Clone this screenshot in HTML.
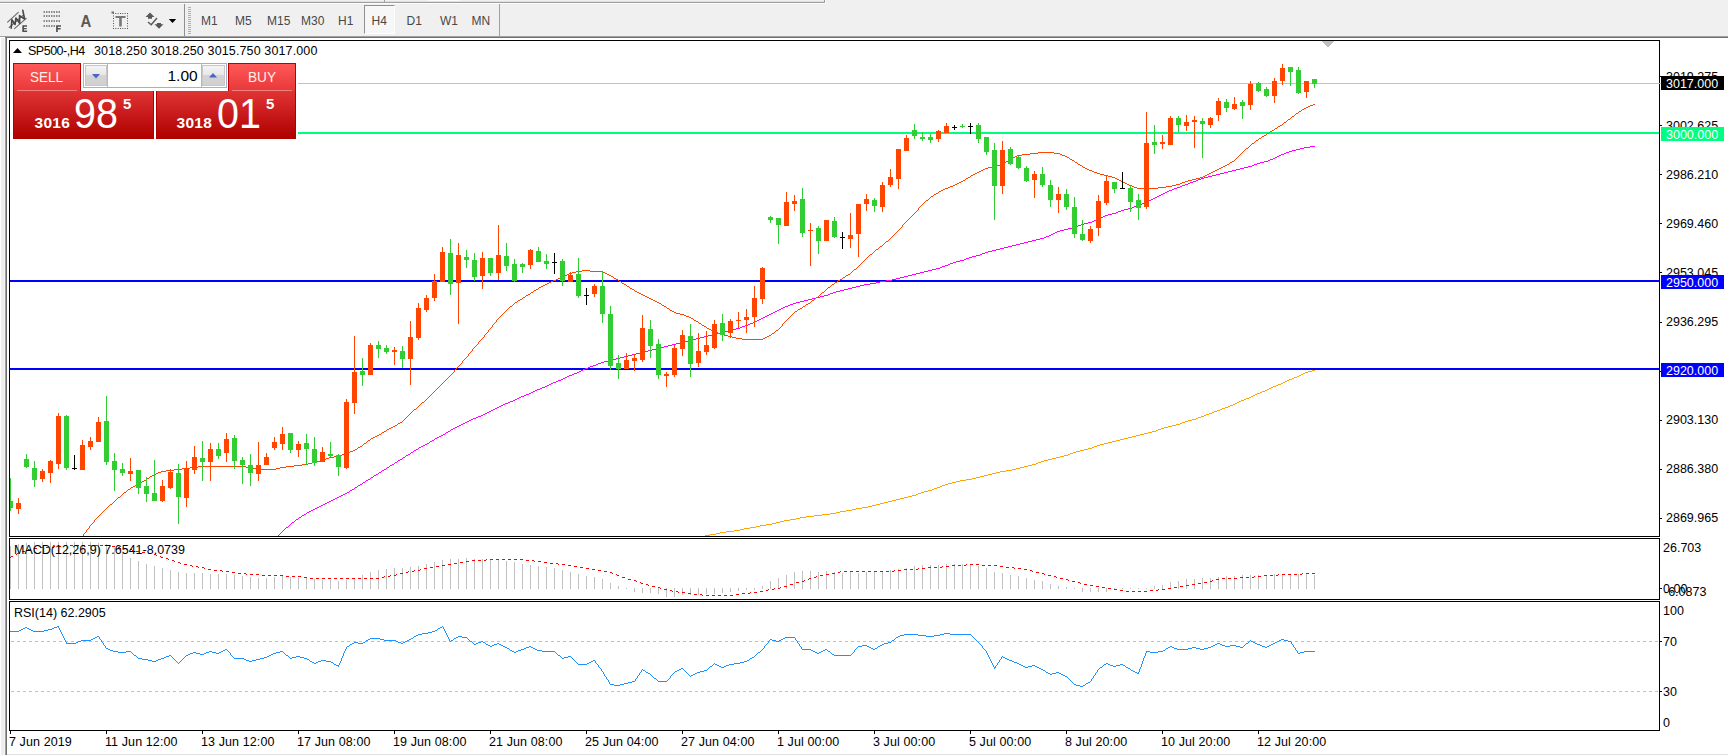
<!DOCTYPE html>
<html><head><meta charset="utf-8"><title>SP500-,H4</title>
<style>
html,body{margin:0;padding:0;}
body{width:1728px;height:755px;overflow:hidden;background:#fff;position:relative;font-family:"Liberation Sans",sans-serif;font-size:12px;color:#000;}
.abs{position:absolute;white-space:nowrap;}
#tb{position:absolute;left:0;top:0;width:1728px;height:37px;background:#F0F0F0;}
.tf{position:absolute;top:14px;font-size:12px;color:#484848;line-height:14px;}
.ax{position:absolute;left:1666px;font-size:12.5px;line-height:14px;white-space:nowrap;}
.lbl{position:absolute;left:1661px;width:63px;height:14px;font-size:12.5px;line-height:14px;color:#fff;padding-left:5px;padding-top:0.8px;box-sizing:border-box;white-space:nowrap;}
.dt{position:absolute;top:734.5px;letter-spacing:0.1px;font-size:12.5px;line-height:14px;white-space:nowrap;}
.big{position:absolute;white-space:nowrap;font-size:42px;line-height:46px;color:#fff;transform-origin:0 0;transform:scaleX(0.94);}
.sm{position:absolute;white-space:nowrap;font-size:15.5px;letter-spacing:0.3px;line-height:18px;font-weight:bold;color:#fff;}
.sup{position:absolute;white-space:nowrap;font-size:15px;line-height:17px;font-weight:bold;color:#fff;}
</style></head><body>
<div id="tb"></div>
<div class="abs" style="left:0;top:1px;width:824px;height:1px;background:#E0E0E0"></div>
<div class="abs" style="left:28px;top:0;width:32px;height:1px;background:#FCFCFC"></div>
<div class="abs" style="left:428px;top:0;width:32px;height:1px;background:#FCFCFC"></div>
<div class="abs" style="left:0;top:2px;width:825px;height:1px;background:#A0A0A0"></div>
<div class="abs" style="left:824px;top:0;width:1px;height:3px;background:#A0A0A0"></div>
<div class="abs" style="left:384px;top:0;width:1px;height:3px;background:#A0A0A0"></div>
<div class="abs" style="left:825px;top:0;width:1px;height:4px;background:#FCFCFC"></div>
<div class="abs" style="left:0;top:3px;width:826px;height:1px;background:#FCFCFC"></div>
<div class="abs" style="left:0;top:36px;width:1728px;height:1px;background:#A0A0A0"></div>
<div class="abs" style="left:0;top:37px;width:1728px;height:1px;background:#707070"></div>
<div class="abs" style="left:0;top:37px;width:5px;height:1px;background:#fff"></div>
<div class="abs" style="left:1px;top:38px;width:3px;height:717px;background:#EEEEEE"></div>
<div class="abs" style="left:4px;top:38px;width:1px;height:717px;background:#F4F4F4"></div>
<div class="abs" style="left:5px;top:38px;width:1px;height:717px;background:#A0A0A0"></div>
<div class="abs" style="left:6px;top:38px;width:1px;height:717px;background:#707070"></div>
<div class="abs" style="left:7px;top:754px;width:1721px;height:1px;background:#E0E0E0"></div>
<!-- toolbar -->
<div class="abs" style="left:184px;top:4px;width:1px;height:32px;background:#909090"></div>
<div class="abs" style="left:499px;top:4px;width:1px;height:32px;background:#A0A0A0"></div>
<div class="abs" style="left:364px;top:5px;width:31px;height:29px;border:1px solid #909090;border-right-color:#FFFFFF;border-bottom-color:#FFFFFF;box-sizing:border-box;background:#F7F7F7"></div>
<svg class="abs" style="left:0;top:0" width="200" height="38" viewBox="0 0 200 38">
<path d="M188 7.5h3M188 9.5h3M188 11.5h3M188 13.5h3M188 15.5h3M188 17.5h3M188 19.5h3M188 21.5h3M188 23.5h3M188 25.5h3M188 27.5h3M188 29.5h3M188 31.5h3M188 33.5h3" stroke="#B0B0B0" stroke-width="1" shape-rendering="crispEdges"/>
<g fill="none" stroke-linecap="round" stroke-linejoin="round">
<path d="M7.6 22.1L18.3 12.4M9.2 27.5L22.7 15.7M14.5 28.6L26.2 18.3" stroke="#686868" stroke-width="1.1"/>
<path d="M11.2 28.2L11.9 19.700L15.1 24.5L15.9 18L19.700 23.300L19.5 15.600L24.600 19L22.800 10.300" stroke="#484848" stroke-width="1.600"/>
</g>
<path d="M43.5 11.2h1.5v1.6h-1.5zM46.0 11.2h1.5v1.6h-1.5zM48.5 11.2h1.5v1.6h-1.5zM51.0 11.2h1.5v1.6h-1.5zM53.5 11.2h1.5v1.6h-1.5zM56.0 11.2h1.5v1.6h-1.5zM58.5 11.2h1.5v1.6h-1.5zM43.5 15.2h1.5v1.6h-1.5zM46.0 15.2h1.5v1.6h-1.5zM48.5 15.2h1.5v1.6h-1.5zM51.0 15.2h1.5v1.6h-1.5zM53.5 15.2h1.5v1.6h-1.5zM56.0 15.2h1.5v1.6h-1.5zM58.5 15.2h1.5v1.6h-1.5zM43.5 20.2h1.5v1.6h-1.5zM46.0 20.2h1.5v1.6h-1.5zM48.5 20.2h1.5v1.6h-1.5zM51.0 20.2h1.5v1.6h-1.5zM53.5 20.2h1.5v1.6h-1.5zM56.0 20.2h1.5v1.6h-1.5zM58.5 20.2h1.5v1.6h-1.5zM43.5 25.2h1.5v1.6h-1.5zM46.0 25.2h1.5v1.6h-1.5zM48.5 25.2h1.5v1.6h-1.5zM51.0 25.2h1.5v1.6h-1.5zM53.5 25.2h1.5v1.6h-1.5z" fill="#686868"/>
<path d="M113.00 13.1h.9v.9h-.9zM113.00 28.1h.9v.9h-.9zM115.33 13.1h.9v.9h-.9zM115.33 28.1h.9v.9h-.9zM117.67 13.1h.9v.9h-.9zM117.67 28.1h.9v.9h-.9zM120.00 13.1h.9v.9h-.9zM120.00 28.1h.9v.9h-.9zM122.33 13.1h.9v.9h-.9zM122.33 28.1h.9v.9h-.9zM124.67 13.1h.9v.9h-.9zM124.67 28.1h.9v.9h-.9zM127.00 13.1h.9v.9h-.9zM127.00 28.1h.9v.9h-.9zM113 15.6h.9v.9h-.9zM127 15.6h.9v.9h-.9zM113 18.1h.9v.9h-.9zM127 18.1h.9v.9h-.9zM113 20.6h.9v.9h-.9zM127 20.6h.9v.9h-.9zM113 23.1h.9v.9h-.9zM127 23.1h.9v.9h-.9zM113 25.6h.9v.9h-.9zM127 25.6h.9v.9h-.9z" fill="#404040"/>
<path d="M111.5 11.5h2.5v2h-2.5z" fill="#707070"/>
<path d="M115.5 16h10v2h-3.700v8.5h-2.600v-8.5h-3.700z" fill="#787878"/>
<path d="M22.300 25.300h4.700v1.5h-3v1.100h2.700v1.400h-2.700v1.200h3.100v1.5h-4.800z" fill="#505050"/>
<path d="M56.100 25.300h4.900v1.5h-3.200v1.300h2.800v1.400h-2.800v2.5h-1.700z" fill="#505050"/>
<text x="80.400" y="26.5" font-family="Liberation Sans" font-size="16.5" font-weight="bold" fill="#585858" textLength="10.800" lengthAdjust="spacingAndGlyphs">A</text>
<g fill="#585858">
<path d="M145.5 17l4.5-4.5l4.5 4.5h-2.5v1.700h-4v-1.700z"/>
<path d="M154.5 24.200h2.5v-1.200h4v1.200h2.5l-4.5 4.600z"/>
</g>
<path d="M148 22l3.200 2.700l5.800-6.700" stroke="#585858" stroke-width="1.400" fill="none"/>
<polygon points="168.800,19 176.200,19 172.5,23" fill="#000"/>
</svg>
<div class="tf" style="left:201px">M1</div>
<div class="tf" style="left:235px">M5</div>
<div class="tf" style="left:267px">M15</div>
<div class="tf" style="left:301px">M30</div>
<div class="tf" style="left:338px">H1</div>
<div class="tf" style="left:371.5px">H4</div>
<div class="tf" style="left:406.5px">D1</div>
<div class="tf" style="left:440px">W1</div>
<div class="tf" style="left:471.5px">MN</div>
<svg width="1728" height="755" viewBox="0 0 1728 755" style="position:absolute;left:0;top:0" shape-rendering="crispEdges"><rect x="9.5" y="40.5" width="1650" height="496" fill="#fff" stroke="#000"/><rect x="9.5" y="538.5" width="1650" height="61" fill="#fff" stroke="#000"/><rect x="9.5" y="601.5" width="1650" height="129" fill="#fff" stroke="#000"/><rect x="298" y="83" width="1363" height="1" fill="#C0C0C0"/><rect x="298" y="132" width="1361" height="2" fill="#00FF7F"/><rect x="10" y="280" width="1649" height="2" fill="#0000FF"/><rect x="10" y="368" width="1649" height="2" fill="#0000FF"/><path d="M800 517.5h6M766 524.5h6M1269 388.5h2M872 505.5h4M1299 375.5h2M916 494.5h2M1088 448.5h4M1000 471.5h6M896 499.5h4M1064 455.5h4M780 521.5h4M1044 460.5h4M744 528.5h6M948 483.5h4M1185 421.5h3M1239 401.5h2M1100 444.5h4M822 514.5h8M1094 446.5h3M734 530.5h6M806 516.5h8M904 497.5h4M1076 451.5h4M705 535.5h5M1052 458.5h4M1192 419.5h4M726 531.5h8M846 510.5h6M1294 377.5h3M760 525.5h6M934 488.5h3M996 472.5h4M1168 426.5h4M912 495.5h4M1230 405.5h3M1084 449.5h4M1144 433.5h4M892 500.5h4M1124 438.5h4M1265 390.5h2M1041 461.5h3M710 534.5h6M814 515.5h8M1225 407.5h3M852 509.5h4M1308 371.5h4M790 519.5h6M984 475.5h4M900 498.5h4M1132 436.5h4M1048 459.5h4M880 503.5h4M1209 413.5h3M1112 441.5h4M720 532.5h6M1241 400.5h3M966 479.5h6M1276 385.5h2M796 518.5h4M756 526.5h4M1028 465.5h4M862 507.5h6M924 491.5h4M992 473.5h4M1214 411.5h3M1289 379.5h3M776 522.5h4M1140 434.5h4M972 478.5h4M1012 469.5h4M1120 439.5h4M868 506.5h4M928 490.5h4M1251 396.5h2M830 513.5h6M1060 456.5h4M952 482.5h4M1260 392.5h2M1198 417.5h3M1176 424.5h4M1016 468.5h4M980 476.5h4M1128 437.5h4M1108 442.5h4M918 493.5h3M1301 374.5h2M1152 431.5h4M1068 454.5h2M942 485.5h3M750 527.5h6M1182 422.5h3M1024 466.5h4M856 508.5h6M1237 402.5h2M1164 427.5h4M1271 387.5h2M1233 404.5h2M1097 445.5h3M1158 429.5h3M1056 457.5h4M840 511.5h6M1246 398.5h3M1287 380.5h2M716 533.5h4M1217 410.5h3M1312 370.5h3M908 496.5h4M1080 450.5h4M888 501.5h4M1283 382.5h2M1038 462.5h3M784 520.5h6M1148 432.5h4M1297 376.5h2M960 480.5h6M937 487.5h3M1257 393.5h3M1267 389.5h2M876 504.5h4M1206 414.5h3M772 523.5h4M1136 435.5h4M1006 470.5h6M836 512.5h4M1228 406.5h2M1278 384.5h3M1188 420.5h4M988 474.5h4M884 502.5h4M1212 412.5h2M1116 440.5h4M956 481.5h4M976 477.5h4M1222 408.5h3M1104 443.5h4M1172 425.5h4M1201 416.5h3M1020 467.5h4M1273 386.5h3M921 492.5h3M1070 453.5h3M1180 423.5h2M945 484.5h3M1244 399.5h2M1161 428.5h3M740 529.5h4M1255 394.5h2M940 486.5h2M1235 403.5h2M1204 415.5h2M1305 372.5h3M1285 381.5h2M1281 383.5h2M1036 463.5h2M1220 409.5h2M1092 447.5h2M1073 452.5h3M1292 378.5h2M932 489.5h2M1032 464.5h4M1196 418.5h2M1262 391.5h3M1253 395.5h2M1303 373.5h2M1156 430.5h2M1249 397.5h2" fill="none" stroke="#FFA500" stroke-width="1"/><path d="M628 355.5h4M307 512.5h2M732 329.5h4M945 265.5h3M382 470.5h2M608 360.5h4M299 517.5h2M765 316.5h2M820 296.5h4M547 385.5h2M992 250.5h4M374 475.5h2M800 301.5h4M1118 211.5h3M577 372.5h2M1270 159.5h3M896 278.5h4M716 333.5h4M1036 239.5h4M1300 148.5h4M632 354.5h4M696 338.5h4M1142 203.5h3M761 318.5h2M1016 244.5h4M920 272.5h4M1068 228.5h4M459 425.5h2M473 418.5h3M1208 176.5h4M419 447.5h2M517 398.5h2M824 295.5h4M1112 213.5h4M1252 165.5h2M411 452.5h2M403 457.5h2M616 358.5h4M1275 157.5h2M904 276.5h4M327 502.5h2M808 299.5h4M870 283.5h6M1124 209.5h4M416 449.5h2M848 288.5h4M1161 194.5h2M1310 146.5h5M704 336.5h4M558 380.5h3M493 409.5h2M1076 226.5h2M928 270.5h4M980 254.5h2M1289 151.5h3M684 341.5h4M745 325.5h3M956 261.5h4M1057 231.5h3M908 275.5h4M567 376.5h2M876 282.5h4M1099 218.5h2M1103 216.5h2M345 493.5h2M292 522.5h2M604 361.5h4M1132 207.5h2M366 480.5h2M892 279.5h4M1049 235.5h2M1053 233.5h2M455 427.5h2M796 302.5h4M856 286.5h4M358 485.5h2M304 514.5h2M446 432.5h2M836 291.5h4M350 490.5h2M296 519.5h2M1081 224.5h3M936 268.5h4M542 387.5h3M1296 149.5h4M692 339.5h4M1064 229.5h4M916 273.5h4M969 257.5h3M1264 161.5h4M1172 189.5h2M1108 214.5h4M461 424.5h2M1248 166.5h4M503 404.5h2M1137 205.5h3M395 462.5h2M757 320.5h2M469 420.5h2M537 389.5h3M387 467.5h2M1182 185.5h3M408 454.5h2M728 330.5h4M1088 222.5h4M400 459.5h2M844 289.5h4M593 365.5h3M323 504.5h2M652 349.5h4M465 422.5h2M976 255.5h4M1286 152.5h3M742 326.5h3M953 262.5h3M519 397.5h2M785 306.5h3M1177 187.5h3M1116 212.5h2M1157 196.5h2M1044 237.5h2M553 382.5h3M489 411.5h2M1236 169.5h4M588 367.5h2M319 506.5h2M430 441.5h2M1193 181.5h3M736 328.5h4M1094 220.5h3M948 264.5h2M781 308.5h2M852 287.5h4M1163 193.5h2M481 415.5h2M341 495.5h2M833 292.5h3M485 413.5h2M524 395.5h2M598 363.5h3M660 347.5h4M982 253.5h3M1260 162.5h4M748 324.5h2M451 429.5h2M640 352.5h4M790 304.5h3M1024 242.5h4M569 375.5h3M443 434.5h2M1216 174.5h4M1004 247.5h4M1198 179.5h3M337 497.5h2M964 259.5h2M624 356.5h4M1167 191.5h2M371 477.5h2M457 426.5h2M565 377.5h2M499 406.5h2M392 464.5h2M448 431.5h2M753 322.5h2M840 290.5h4M668 345.5h4M574 373.5h3M384 469.5h2M1051 234.5h2M1128 208.5h4M286 527.5h2M648 350.5h4M376 474.5h2M1032 240.5h4M864 284.5h6M579 371.5h2M1224 172.5h4M1012 245.5h4M1078 225.5h3M1204 177.5h4M942 266.5h3M763 317.5h2M1281 154.5h3M886 280.5h6M515 399.5h2M612 359.5h4M549 384.5h2M804 300.5h4M315 508.5h2M1277 156.5h2M656 348.5h4M1304 147.5h6M510 401.5h3M636 353.5h4M700 337.5h4M1020 243.5h4M924 271.5h4M1159 195.5h2M476 417.5h2M680 342.5h4M1212 175.5h4M1000 248.5h4M1254 164.5h3M960 260.5h4M724 331.5h4M427 443.5h2M783 307.5h2M1101 217.5h2M1155 197.5h2M333 499.5h2M1228 171.5h4M487 412.5h2M368 479.5h2M453 428.5h2M561 379.5h2M644 351.5h4M495 408.5h2M860 285.5h4M932 269.5h4M1028 241.5h4M688 340.5h4M1292 150.5h4M596 364.5h2M912 274.5h4M1008 246.5h4M1060 230.5h4M1201 178.5h3M816 297.5h4M880 281.5h6M339 496.5h2M988 251.5h4M966 258.5h3M1244 167.5h4M1169 190.5h3M1174 188.5h3M491 410.5h2M712 334.5h4M1072 227.5h4M1140 204.5h2M759 319.5h2M360 484.5h2M471 419.5h2M352 489.5h2M545 386.5h2M601 362.5h3M676 343.5h4M1134 206.5h3M996 249.5h4M900 277.5h4M793 303.5h3M1273 158.5h2M325 503.5h2M467 421.5h2M505 403.5h3M414 450.5h2M1040 238.5h4M1180 186.5h2M1232 170.5h4M1190 182.5h3M585 368.5h3M779 309.5h2M830 293.5h3M1097 219.5h2M1151 199.5h2M329 501.5h2M483 414.5h2M526 394.5h3M664 346.5h4M1185 184.5h3M1257 163.5h3M1046 236.5h3M556 381.5h2M441 435.5h2M1220 173.5h4M432 440.5h2M1196 180.5h2M335 498.5h2M740 327.5h2M1165 192.5h2M755 321.5h2M620 357.5h4M940 267.5h2M1084 223.5h4M321 505.5h2M463 423.5h2M950 263.5h3M708 335.5h4M398 460.5h2M317 507.5h2M390 465.5h2M775 311.5h2M513 400.5h2M1092 221.5h2M1147 201.5h2M478 416.5h3M1284 153.5h2M521 396.5h3M672 344.5h4M437 437.5h2M331 500.5h2M1188 183.5h2M563 378.5h2M985 252.5h3M828 294.5h2M750 323.5h3M572 374.5h2M1240 168.5h4M533 391.5h2M313 509.5h2M508 402.5h2M771 313.5h2M583 369.5h2M767 315.5h2M425 444.5h2M1153 198.5h2M1121 210.5h3M421 446.5h2M529 393.5h2M435 438.5h2M363 482.5h2M309 511.5h2M355 487.5h2M439 436.5h2M540 388.5h2M777 310.5h2M1145 202.5h2M1149 200.5h2M590 366.5h3M423 445.5h2M720 332.5h4M347 492.5h2M788 305.5h2M1105 215.5h3M535 390.5h2M1055 232.5h2M812 298.5h4M1268 160.5h2M972 256.5h4M311 510.5h2M302 515.5h2M773 312.5h2M769 314.5h2M406 455.5h2M1279 155.5h2M531 392.5h2M501 405.5h2M581 370.5h2M379 472.5h2M343 494.5h2M551 383.5h2M497 407.5h2M362.5 483v1M378.5 473v1M278.5 535v1M279.5 534v1M285.5 528v1M291.5 523v1M349.5 491v1M373.5 476v1M290.5 524v1M365.5 481v1M381.5 471v1M413.5 451v1M289.5 525v1M357.5 486v1M389.5 466v1M405.5 456v1M294.5 521v1M295.5 520v1M450.5 430v1M397.5 461v1M283.5 530v1M284.5 529v1M306.5 513v1M298.5 518v1M282.5 531v1M288.5 526v1M445.5 433v1M434.5 439v1M281.5 532v1M280.5 533v1M394.5 463v1M410.5 453v1M301.5 516v1M354.5 488v1M370.5 478v1M386.5 468v1M402.5 458v1M429.5 442v1M418.5 448v1" fill="none" stroke="#FF00FF" stroke-width="1"/><path d="M198 466.5h48M286 466.5h8M886 241.5h2M696 321.5h2M948 187.5h2M1134 187.5h3M1158 187.5h8M398 423.5h2M977 172.5h2M1094 172.5h3M1211 172.5h2M945 188.5h3M1137 188.5h21M963 180.5h2M1119 180.5h2M1188 180.5h4M975 173.5h2M1097 173.5h3M1209 173.5h2M732 337.5h4M765 337.5h2M992 166.5h4M1223 166.5h2M941 190.5h2M531 292.5h2M637 292.5h2M822 292.5h2M711 330.5h2M776 330.5h2M667 308.5h2M800 308.5h2M1017 155.5h5M1062 155.5h3M510 306.5h2M664 306.5h2M803 306.5h2M569 273.5h3M605 273.5h2M1030 153.5h8M1054 153.5h6M674 312.5h2M549 282.5h2M835 282.5h2M377 435.5h2M110 504.5h2M190 467.5h8M246 467.5h6M280 467.5h6M950 186.5h3M1132 186.5h2M1166 186.5h6M345 453.5h3M1038 152.5h16M316 461.5h4M1070 159.5h2M1075 162.5h2M1230 162.5h2M979 171.5h2M1092 171.5h2M1213 171.5h2M547 283.5h2M622 283.5h2M302 464.5h6M294 465.5h8M329 457.5h5M1310 105.5h3M676 313.5h4M716 332.5h2M137 484.5h2M1306 107.5h2M1011 158.5h2M713 331.5h3M953 185.5h2M1129 185.5h3M1172 185.5h4M1008 160.5h2M1072 160.5h2M728 336.5h4M767 336.5h2M182 468.5h8M252 468.5h4M276 468.5h4M515 302.5h2M657 302.5h2M387 429.5h2M1267 133.5h2M174 469.5h8M256 469.5h20M139 483.5h2M1308 106.5h2M680 314.5h4M931 196.5h2M959 182.5h2M1123 182.5h2M1182 182.5h3M556 279.5h2M616 279.5h2M840 279.5h2M649 298.5h2M968 177.5h2M1112 177.5h3M1200 177.5h3M645 296.5h2M539 287.5h2M828 287.5h2M1292 116.5h2M985 168.5h3M1085 168.5h2M1219 168.5h2M1000 164.5h3M1078 164.5h2M1227 164.5h2M558 278.5h3M614 278.5h2M694 320.5h2M988 167.5h4M1083 167.5h2M1221 167.5h2M955 184.5h2M1127 184.5h2M1176 184.5h4M523 297.5h2M647 297.5h2M816 297.5h2M131 487.5h2M520 299.5h2M651 299.5h2M395 425.5h2M724 335.5h4M769 335.5h2M576 271.5h6M590 271.5h13M742 339.5h21M957 183.5h2M1125 183.5h2M1180 183.5h2M565 275.5h2M609 275.5h2M846 275.5h2M635 291.5h2M686 316.5h3M1275 128.5h2M154 474.5h2M342 454.5h3M702 325.5h2M543 285.5h2M639 293.5h2M798 309.5h2M358 447.5h2M166 470.5h8M1284 122.5h2M662 305.5h2M320 460.5h4M961 181.5h2M1121 181.5h2M1185 181.5h3M156 473.5h2M966 178.5h2M1115 178.5h2M1196 178.5h4M1003 163.5h2M718 333.5h3M772 333.5h2M567 274.5h2M607 274.5h2M848 274.5h2M308 463.5h4M981 170.5h2M1089 170.5h3M1215 170.5h2M655 301.5h2M1013 157.5h2M1067 157.5h2M368 440.5h2M536 289.5h2M632 289.5h2M876 249.5h2M1108 176.5h4M1203 176.5h2M983 169.5h2M1087 169.5h2M1217 169.5h2M672 311.5h2M795 311.5h2M353 450.5h2M128 489.5h2M996 165.5h4M1080 165.5h2M1225 165.5h2M1022 154.5h8M1060 154.5h2M379 434.5h2M806 304.5h2M1299 111.5h2M518 300.5h2M653 300.5h2M812 300.5h2M340 455.5h2M545 284.5h2M624 284.5h2M832 284.5h2M582 270.5h8M936 193.5h2M1256 140.5h2M360 446.5h2M689 317.5h2M152 475.5h2M973 174.5h2M1100 174.5h4M1207 174.5h2M659 303.5h2M808 303.5h2M670 310.5h2M553 280.5h3M838 280.5h2M721 334.5h3M1015 156.5h2M1065 156.5h2M707 328.5h2M1117 179.5h2M1192 179.5h4M684 315.5h2M147 478.5h2M736 338.5h6M763 338.5h2M939 191.5h2M326 458.5h3M534 290.5h2M375 436.5h2M572 272.5h4M603 272.5h2M1296 113.5h2M161 471.5h5M528 294.5h2M641 294.5h2M1006 161.5h2M1232 161.5h2M541 286.5h2M627 286.5h2M704 326.5h2M854 269.5h2M870 254.5h2M382 432.5h2M630 288.5h2M943 189.5h2M1264 135.5h2M1288 119.5h2M384 431.5h2M350 451.5h3M526 295.5h2M643 295.5h2M393 426.5h2M144 480.5h2M699 323.5h2M422 402.5h2M1270 131.5h2M709 329.5h2M312 462.5h4M971 175.5h2M1104 175.5h4M1205 175.5h2M551 281.5h2M619 281.5h2M691 318.5h2M133 486.5h2M1280 125.5h2M1304 108.5h2M414 409.5h2M334 456.5h6M324 459.5h2M158 472.5h3M373 437.5h2M124 492.5h2M880 246.5h2M934 194.5h2M1252 143.5h2M561 277.5h2M843 277.5h2M563 276.5h2M611 276.5h2M135 485.5h2M1262 136.5h2M348 452.5h2M926 200.5h2M391 427.5h2M118 497.5h2M1272 130.5h2M1313 104.5h2M355 449.5h2M1278 126.5h2M1259 138.5h2M142 481.5h2M371 438.5h2M1246 148.5h2M389 428.5h2M1302 109.5h2M400 422.5h2M150 476.5h2M364 443.5h2M496.5 320v2M910.5 217v1M875.5 250v1M499.5 317v1M1250.5 145v1M480.5 340v1M103.5 511v1M925.5 201v1M425.5 400v1M1234.5 160v1M472.5 349v2M929.5 198v1M866.5 258v1M418.5 406v1M1082.5 166v1M933.5 195v1M488.5 330v2M508.5 308v1M453.5 372v1M1261.5 137v1M792.5 314v1M629.5 287v1M893.5 235v1M444.5 381v1M819.5 295v1M850.5 273v1M1077.5 163v1M512.5 305v1M917.5 210v1M409.5 414v1M464.5 359v1M386.5 430v1M869.5 255v1M441.5 384v1M406.5 417v1M1283.5 123v1M432.5 393v1M873.5 252v1M459.5 365v1M114.5 501v1M1241.5 153v1M1010.5 159v1M149.5 477v1M905.5 222v1M456.5 368v1M1074.5 161v1M842.5 278v1M429.5 396v1M98.5 516v1M834.5 283v1M900.5 228v1M920.5 206v1M362.5 445v1M503.5 313v1M448.5 377v1M1287.5 120v1M787.5 319v1M121.5 495v1M1248.5 147v1M141.5 482v1M888.5 240v1M487.5 332v1M90.5 525v1M912.5 215v1M404.5 419v1M784.5 322v1M436.5 389v1M775.5 331v1M621.5 282v1M861.5 263v1M451.5 374v1M495.5 322v1M1069.5 158v1M779.5 328v1M420.5 404v1M666.5 307v1M366.5 442v1M490.5 328v1M924.5 202v1M424.5 401v1M370.5 439v1M471.5 351v1M895.5 233v1M821.5 293v1M810.5 302v1M439.5 386v1M802.5 307v1M1291.5 117v1M482.5 338v1M814.5 299v1M466.5 357v1M791.5 315v1M892.5 236v1M498.5 318v1M105.5 509v1M479.5 341v1M1236.5 158v1M613.5 277v1M907.5 220v1M89.5 526v2M474.5 347v1M431.5 394v1M794.5 312v1M825.5 290v1M522.5 298v1M411.5 412v1M852.5 271v1M514.5 303v1M818.5 296v1M485.5 334v1M97.5 517v1M899.5 229v1M123.5 493v1M408.5 415v1M443.5 382v1M463.5 360v1M879.5 247v1M868.5 256v1M434.5 391v1M127.5 490v1M116.5 499v1M1243.5 151v1M883.5 244v1M493.5 324v1M872.5 253v1M458.5 366v1M786.5 320v1M120.5 496v1M634.5 290v1M100.5 514v1M902.5 225v2M922.5 204v1M856.5 268v1M774.5 332v1M837.5 281v1M1254.5 142v1M505.5 311v1M450.5 375v1M789.5 317v1M1266.5 134v1M890.5 238v1M1301.5 110v1M1258.5 139v1M92.5 523v1M1282.5 124v1M965.5 179v1M1274.5 129v1M914.5 213v1M84.5 533v1M87.5 529v1M438.5 387v1M403.5 420v1M107.5 507v1M481.5 339v1M863.5 261v1M781.5 326v1M1238.5 156v1M778.5 329v1M492.5 325v2M426.5 399v1M95.5 519v1M897.5 231v1M484.5 335v2M820.5 294v1M468.5 354v2M793.5 313v1M626.5 285v1M824.5 291v1M500.5 316v1M445.5 380v1M410.5 413v1M465.5 358v1M701.5 324v1M874.5 251v1M909.5 218v1M476.5 345v1M878.5 248v1M433.5 392v1M102.5 512v1M827.5 288v1M858.5 266v1M83.5 534v2M489.5 329v1M413.5 410v1M831.5 285v1M894.5 234v1M928.5 199v1M851.5 272v1M417.5 407v1M538.5 288v1M797.5 310v1M99.5 515v1M530.5 293v1M507.5 309v1M452.5 373v1M921.5 205v1M1295.5 114v1M618.5 280v1M122.5 494v1M94.5 520v2M1245.5 149v1M916.5 211v1M693.5 319v1M885.5 242v1M126.5 491v1M460.5 364v1M1242.5 152v1M397.5 424v1M788.5 318v1M882.5 245v1M86.5 530v2M440.5 385v1M1229.5 163v1M901.5 227v1M904.5 223v1M106.5 508v1M862.5 262v1M428.5 397v1M363.5 444v1M845.5 276v1M1249.5 146v1M889.5 239v1M811.5 301v1M91.5 524v1M815.5 298v1M381.5 433v1M913.5 214v1M502.5 314v1M405.5 418v1M109.5 505v1M483.5 337v1M865.5 259v1M113.5 502v1M1005.5 162v1M455.5 369v1M780.5 327v1M1237.5 157v1M783.5 323v1M478.5 342v2M435.5 390v1M491.5 327v1M494.5 323v1M919.5 207v1M896.5 232v1M475.5 346v1M853.5 270v1M419.5 405v1M101.5 513v1M357.5 448v1M486.5 333v1M826.5 289v1M857.5 267v1M412.5 411v1M447.5 378v1M1240.5 154v1M1286.5 121v1M467.5 356v1M416.5 408v1M1290.5 118v1M911.5 216v1M970.5 176v1M462.5 361v2M506.5 310v1M908.5 219v1M104.5 510v1M860.5 264v1M938.5 192v1M930.5 197v1M85.5 532v1M470.5 352v1M473.5 348v1M830.5 286v1M706.5 327v1M509.5 307v1M454.5 370v2M923.5 203v1M805.5 305v1M790.5 316v1M513.5 304v1M1294.5 115v1M1251.5 144v1M533.5 291v1M891.5 237v1M525.5 296v1M918.5 208v2M93.5 522v1M1298.5 112v1M1255.5 141v1M117.5 498v1M1244.5 150v1M669.5 309v1M884.5 243v1M497.5 319v1M442.5 383v1M407.5 416v1M1235.5 159v1M146.5 479v1M867.5 257v1M115.5 500v1M457.5 367v1M782.5 324v2M771.5 334v1M108.5 506v1M903.5 224v1M864.5 260v1M430.5 395v1M517.5 301v1M427.5 398v1M698.5 322v1M915.5 212v1M504.5 312v1M449.5 376v1M906.5 221v1M661.5 304v1M88.5 528v1M112.5 503v1M1239.5 155v1M402.5 421v1M477.5 344v1M461.5 363v1M96.5 518v1M898.5 230v1M421.5 403v1M367.5 441v1M859.5 265v1M501.5 315v1M130.5 488v1M446.5 379v1M785.5 321v1M469.5 353v1M1277.5 127v1M437.5 388v1M1269.5 132v1" fill="none" stroke="#FF4500" stroke-width="1"/><path d="M10 478h1v33h-1zM10 501h3v7h-3zM26 454h1v14h-1zM24 459h5v8h-5zM34 461h1v26h-1zM32 468h5v12h-5zM66 415h1v55h-1zM64 416h5v52h-5zM106 396h1v69h-1zM104 421h5v41h-5zM114 453h1v38h-1zM112 461h5v9h-5zM122 463h1v13h-1zM120 469h5v4h-5zM138 470h1v24h-1zM136 470h5v18h-5zM146 477h1v25h-1zM144 486h5v8h-5zM154 460h1v41h-1zM152 493h5v8h-5zM178 464h1v60h-1zM176 473h5v24h-5zM202 441h1v40h-1zM200 458h5v4h-5zM218 443h1v16h-1zM216 449h5v7h-5zM234 435h1v34h-1zM232 438h5v23h-5zM242 457h1v27h-1zM240 460h5v5h-5zM250 454h1v32h-1zM248 465h5v8h-5zM290 433h1v20h-1zM288 433h5v17h-5zM306 434h1v31h-1zM304 443h5v6h-5zM314 437h1v29h-1zM312 449h5v14h-5zM330 442h1v15h-1zM328 454h5v2h-5zM338 454h1v22h-1zM336 455h5v12h-5zM362 358h1v28h-1zM360 371h5v4h-5zM378 341h1v17h-1zM376 345h5v4h-5zM386 345h1v9h-1zM384 348h5v4h-5zM402 346h1v22h-1zM400 351h5v8h-5zM450 239h1v56h-1zM448 253h5v31h-5zM466 250h1v18h-1zM464 257h5v3h-5zM474 253h1v28h-1zM472 260h5v17h-5zM490 258h1v18h-1zM488 258h5v15h-5zM506 243h1v28h-1zM504 256h5v10h-5zM514 259h1v23h-1zM512 264h5v17h-5zM522 263h1v10h-1zM520 264h5v3h-5zM538 247h1v15h-1zM536 251h5v11h-5zM546 254h1v15h-1zM544 261h5v3h-5zM562 259h1v27h-1zM560 261h5v20h-5zM578 258h1v40h-1zM576 274h5v22h-5zM602 272h1v51h-1zM600 286h5v28h-5zM610 306h1v64h-1zM608 314h5v52h-5zM618 355h1v24h-1zM616 363h5v6h-5zM650 320h1v38h-1zM648 329h5v17h-5zM658 339h1v40h-1zM656 344h5v31h-5zM690 324h1v53h-1zM688 336h5v28h-5zM722 314h1v27h-1zM720 323h5v12h-5zM770 216h1v7h-1zM768 217h5v3h-5zM778 218h1v26h-1zM776 218h5v7h-5zM802 188h1v49h-1zM800 199h5v34h-5zM818 226h1v28h-1zM816 228h5v13h-5zM834 217h1v21h-1zM832 221h5v16h-5zM874 198h1v14h-1zM872 200h5v6h-5zM914 124h1v15h-1zM912 130h5v6h-5zM922 132h1v9h-1zM920 137h5v2h-5zM930 134h1v9h-1zM928 137h5v3h-5zM962 124h1v4h-1zM960 126h5v1h-5zM978 123h1v20h-1zM976 125h5v14h-5zM986 137h1v18h-1zM984 137h5v15h-5zM994 143h1v77h-1zM992 150h5v36h-5zM1010 147h1v18h-1zM1008 149h5v15h-5zM1018 156h1v13h-1zM1016 157h5v11h-5zM1026 166h1v16h-1zM1024 168h5v13h-5zM1042 167h1v20h-1zM1040 174h5v11h-5zM1050 180h1v27h-1zM1048 185h5v15h-5zM1066 189h1v21h-1zM1064 194h5v13h-5zM1074 197h1v41h-1zM1072 207h5v27h-5zM1082 220h1v21h-1zM1080 234h5v6h-5zM1114 182h1v11h-1zM1112 182h5v7h-5zM1130 186h1v26h-1zM1128 188h5v14h-5zM1138 194h1v26h-1zM1136 200h5v8h-5zM1154 125h1v29h-1zM1152 142h5v3h-5zM1178 116h1v16h-1zM1176 118h5v7h-5zM1202 118h1v40h-1zM1200 121h5v3h-5zM1226 99h1v13h-1zM1224 102h5v6h-5zM1242 100h1v19h-1zM1240 102h5v4h-5zM1258 82h1v10h-1zM1256 83h5v8h-5zM1266 87h1v10h-1zM1264 89h5v7h-5zM1290 67h1v19h-1zM1288 67h5v5h-5zM1298 67h1v27h-1zM1296 70h5v23h-5zM1314 79h1v9h-1zM1312 79h5v5h-5z" fill="#32CD32"/><path d="M18 498h1v16h-1zM16 503h5v6h-5zM42 469h1v13h-1zM40 471h5v8h-5zM50 460h1v23h-1zM48 461h5v12h-5zM58 413h1v56h-1zM56 416h5v48h-5zM82 440h1v30h-1zM80 445h5v25h-5zM90 437h1v13h-1zM88 441h5v6h-5zM98 417h1v25h-1zM96 422h5v20h-5zM130 458h1v23h-1zM128 471h5v3h-5zM162 480h1v22h-1zM160 486h5v15h-5zM170 469h1v20h-1zM168 472h5v16h-5zM186 461h1v46h-1zM184 469h5v29h-5zM194 446h1v28h-1zM192 457h5v13h-5zM210 443h1v38h-1zM208 449h5v13h-5zM226 433h1v29h-1zM224 439h5v14h-5zM258 442h1v39h-1zM256 465h5v9h-5zM266 453h1v12h-1zM264 457h5v8h-5zM274 437h1v13h-1zM272 442h5v6h-5zM282 427h1v23h-1zM280 434h5v10h-5zM298 441h1v16h-1zM296 444h5v6h-5zM322 447h1v15h-1zM320 452h5v10h-5zM346 399h1v70h-1zM344 402h5v66h-5zM354 336h1v78h-1zM352 372h5v31h-5zM370 343h1v32h-1zM368 345h5v30h-5zM394 347h1v18h-1zM392 350h5v2h-5zM410 321h1v64h-1zM408 337h5v22h-5zM418 303h1v37h-1zM416 308h5v30h-5zM426 295h1v17h-1zM424 298h5v12h-5zM434 274h1v27h-1zM432 281h5v17h-5zM442 247h1v35h-1zM440 252h5v30h-5zM458 243h1v81h-1zM456 255h5v28h-5zM482 252h1v37h-1zM480 258h5v18h-5zM498 225h1v55h-1zM496 255h5v18h-5zM530 249h1v20h-1zM528 250h5v15h-5zM570 272h1v10h-1zM568 275h5v7h-5zM594 284h1v13h-1zM592 286h5v8h-5zM626 353h1v16h-1zM624 360h5v9h-5zM634 354h1v17h-1zM632 358h5v3h-5zM642 315h1v47h-1zM640 328h5v32h-5zM666 372h1v15h-1zM664 374h5v2h-5zM674 345h1v32h-1zM672 348h5v27h-5zM682 330h1v26h-1zM680 335h5v14h-5zM698 333h1v34h-1zM696 351h5v12h-5zM706 331h1v24h-1zM704 345h5v7h-5zM714 320h1v29h-1zM712 324h5v24h-5zM730 319h1v19h-1zM728 321h5v12h-5zM738 312h1v16h-1zM736 320h5v1h-5zM746 309h1v24h-1zM744 317h5v3h-5zM754 286h1v41h-1zM752 298h5v19h-5zM762 267h1v37h-1zM760 268h5v31h-5zM786 192h1v34h-1zM784 202h5v24h-5zM794 195h1v16h-1zM792 201h5v3h-5zM810 223h1v43h-1zM808 230h5v1h-5zM826 220h1v21h-1zM824 220h5v21h-5zM850 213h1v35h-1zM848 235h5v4h-5zM858 204h1v53h-1zM856 204h5v30h-5zM866 194h1v17h-1zM864 199h5v5h-5zM882 182h1v30h-1zM880 185h5v22h-5zM890 169h1v18h-1zM888 177h5v8h-5zM898 149h1v40h-1zM896 149h5v30h-5zM906 135h1v16h-1zM904 138h5v13h-5zM938 130h1v12h-1zM936 131h5v8h-5zM946 123h1v10h-1zM944 126h5v7h-5zM1002 141h1v53h-1zM1000 150h5v36h-5zM1034 171h1v27h-1zM1032 174h5v6h-5zM1058 187h1v26h-1zM1056 194h5v6h-5zM1090 226h1v17h-1zM1088 229h5v12h-5zM1098 195h1v41h-1zM1096 201h5v27h-5zM1106 175h1v30h-1zM1104 181h5v22h-5zM1146 112h1v97h-1zM1144 143h5v64h-5zM1162 135h1v14h-1zM1160 142h5v2h-5zM1170 116h1v29h-1zM1168 118h5v27h-5zM1186 115h1v16h-1zM1184 122h5v4h-5zM1194 116h1v32h-1zM1192 120h5v2h-5zM1210 117h1v11h-1zM1208 118h5v7h-5zM1218 98h1v23h-1zM1216 101h5v14h-5zM1234 97h1v13h-1zM1232 104h5v5h-5zM1250 81h1v29h-1zM1248 84h5v21h-5zM1274 78h1v25h-1zM1272 81h5v15h-5zM1282 64h1v21h-1zM1280 68h5v13h-5zM1306 81h1v17h-1zM1304 81h5v11h-5z" fill="#FF4500"/><path d="M74 455h1v15h-1zM72 468h5v1h-5zM554 253h1v21h-1zM552 262h5v1h-5zM586 288h1v17h-1zM584 295h5v1h-5zM842 232h1v17h-1zM840 237h5v1h-5zM954 125h1v5h-1zM952 127h5v1h-5zM970 123h1v11h-1zM968 126h5v1h-5zM1122 172h1v17h-1zM1120 188h5v1h-5z" fill="#000"/><polygon points="1321,41 1334,41 1327.5,47.5" fill="#C0C0C0"/><path d="M10.5 546V589M18.5 544V589M26.5 543V589M34.5 542V589M42.5 542V589M50.5 542V589M58.5 542V589M66.5 542V589M74.5 542V589M82.5 542V589M90.5 542V589M98.5 543V589M106.5 544V589M114.5 548V589M122.5 553V589M130.5 558V589M138.5 561V589M146.5 564V589M154.5 566V589M162.5 568V589M170.5 570V589M178.5 572V589M186.5 573V589M194.5 573V589M202.5 573V589M210.5 574V589M218.5 574V589M226.5 574V589M234.5 575V589M242.5 576V589M250.5 577V589M258.5 578V589M266.5 578V589M274.5 577V589M282.5 576V589M290.5 577V589M298.5 578V589M306.5 578V589M314.5 579V589M322.5 580V589M330.5 580V589M338.5 581V589M346.5 580V589M354.5 578V589M362.5 575V589M370.5 572V589M378.5 570V589M386.5 569V589M394.5 568V589M402.5 568V589M410.5 567V589M418.5 566V589M426.5 564V589M434.5 562V589M442.5 560V589M450.5 559V589M458.5 559V589M466.5 558V589M474.5 559V589M482.5 559V589M490.5 559V589M498.5 560V589M506.5 561V589M514.5 562V589M522.5 564V589M530.5 565V589M538.5 566V589M546.5 567V589M554.5 568V589M562.5 570V589M570.5 572V589M578.5 574V589M586.5 576V589M594.5 577V589M602.5 579V589M610.5 583V589M618.5 586V589M626.5 588V589M634.5 588V592M642.5 588V593M650.5 588V593M658.5 588V594M666.5 588V597M674.5 588V597M682.5 588V595M690.5 588V595M698.5 588V595M706.5 588V594M714.5 588V594M722.5 588V593M730.5 588V592M738.5 588V591M746.5 588V590M754.5 588V590M762.5 586V589M770.5 581V589M778.5 578V589M786.5 575V589M794.5 572V589M802.5 571V589M810.5 571V589M818.5 572V589M826.5 571V589M834.5 572V589M842.5 573V589M850.5 572V589M858.5 573V589M866.5 572V589M874.5 572V589M882.5 571V589M890.5 570V589M898.5 569V589M906.5 568V589M914.5 566V589M922.5 565V589M930.5 565V589M938.5 565V589M946.5 564V589M954.5 564V589M962.5 564V589M970.5 564V589M978.5 566V589M986.5 568V589M994.5 572V589M1002.5 573V589M1010.5 575V589M1018.5 576V589M1026.5 578V589M1034.5 580V589M1042.5 581V589M1050.5 584V589M1058.5 586V589M1066.5 587V589M1074.5 588V589M1082.5 588V592M1090.5 588V592M1098.5 588V592M1106.5 588V592M1114.5 588V590M1122.5 588V589M1130.5 588V589M1138.5 588V589M1146.5 588V589M1154.5 586V589M1162.5 585V589M1170.5 582V589M1178.5 581V589M1186.5 579V589M1194.5 579V589M1202.5 578V589M1210.5 578V589M1218.5 577V589M1226.5 576V589M1234.5 576V589M1242.5 575V589M1250.5 575V589M1258.5 575V589M1266.5 575V589M1274.5 574V589M1282.5 574V589M1290.5 574V589M1298.5 574V589M1306.5 574V589M1314.5 575V589" fill="none" stroke="#C0C0C0" stroke-width="1"/><path d="M652 586.5h3M784 586.5h3M1096 586.5h3M1180 586.5h3M232 572.5h3M406 572.5h2M610 572.5h2M838 572.5h2M1036 572.5h3M196 566.5h2M436 566.5h3M574 566.5h3M946 566.5h3M1000 566.5h3M490 559.5h3M496 559.5h3M502 559.5h3M508 559.5h3M514 559.5h3M520 559.5h3M304 577.5h3M382 577.5h2M622 577.5h3M814 577.5h2M1240 577.5h3M1246 577.5h3M1252 577.5h2M424 568.5h3M586 568.5h3M922 568.5h3M1018 568.5h3M64 545.5h3M70 545.5h3M76 545.5h3M82 545.5h3M88 545.5h3M94 545.5h3M100 545.5h3M106 545.5h3M670 590.5h2M766 590.5h2M1120 590.5h3M1150 590.5h3M1156 590.5h2M778 588.5h2M1108 588.5h3M1168 588.5h3M34 548.5h3M124 548.5h2M676 591.5h2M760 591.5h3M1126 591.5h3M1132 591.5h3M1138 591.5h3M1144 591.5h3M166 558.5h2M646 584.5h2M790 584.5h3M1084 584.5h3M1192 584.5h3M214 570.5h3M220 570.5h2M418 570.5h2M598 570.5h3M898 570.5h3M1030 570.5h2M664 589.5h3M772 589.5h2M1114 589.5h3M1162 589.5h3M262 575.5h3M268 575.5h3M274 575.5h3M280 575.5h3M394 575.5h2M617 575.5h2M820 575.5h3M1048 575.5h3M1264 575.5h3M1270 575.5h3M1276 575.5h2M706 595.5h3M712 595.5h3M718 595.5h3M724 595.5h3M730 595.5h3M286 576.5h3M292 576.5h3M298 576.5h3M388 576.5h2M1054 576.5h2M1258 576.5h3M161 557.5h2M190 565.5h2M442 565.5h3M568 565.5h3M952 565.5h3M958 565.5h3M964 565.5h2M982 565.5h3M988 565.5h3M994 565.5h3M310 578.5h3M316 578.5h3M322 578.5h3M328 578.5h3M334 578.5h3M340 578.5h3M346 578.5h3M352 578.5h3M358 578.5h3M364 578.5h3M370 578.5h3M376 578.5h3M809 578.5h2M1060 578.5h3M1222 578.5h3M1228 578.5h3M1234 578.5h3M226 571.5h3M412 571.5h2M604 571.5h3M844 571.5h3M850 571.5h3M856 571.5h3M862 571.5h3M868 571.5h3M874 571.5h3M880 571.5h3M886 571.5h3M892 571.5h2M238 573.5h3M244 573.5h2M400 573.5h3M832 573.5h3M1042 573.5h2M1306 573.5h3M1312 573.5h3M694 594.5h3M700 594.5h2M736 594.5h3M202 567.5h2M430 567.5h3M580 567.5h3M928 567.5h3M934 567.5h3M940 567.5h2M1006 567.5h3M1012 567.5h2M658 587.5h2M1102 587.5h3M1174 587.5h3M634 580.5h2M172 560.5h2M472 560.5h3M478 560.5h3M484 560.5h2M526 560.5h3M532 560.5h2M641 583.5h2M1198 583.5h3M628 579.5h3M1066 579.5h2M1216 579.5h3M58 546.5h3M112 546.5h3M40 547.5h3M46 547.5h3M52 547.5h2M118 547.5h2M208 569.5h3M592 569.5h3M904 569.5h3M910 569.5h3M916 569.5h2M1024 569.5h3M250 574.5h3M256 574.5h3M826 574.5h3M1282 574.5h3M1288 574.5h3M1294 574.5h3M1300 574.5h2M454 563.5h3M550 563.5h3M556 563.5h2M178 562.5h2M460 562.5h3M544 562.5h3M184 564.5h3M448 564.5h3M562 564.5h3M970 564.5h3M976 564.5h3M682 592.5h3M754 592.5h3M796 582.5h3M1078 582.5h2M1204 582.5h3M28 549.5h3M130 549.5h2M688 593.5h3M742 593.5h3M748 593.5h2M466 561.5h3M538 561.5h3M802 581.5h2M1072 581.5h3M1210 581.5h2M1090 585.5h3M1186 585.5h3M17 553.5h2M148 553.5h3M11 556.5h2M22 551.5h3M136 551.5h3M142 552.5h3M154 554.5h2M750.5 592v1M1278.5 574v1M840.5 571v1M1254.5 576v1M192.5 566v1M390.5 575v1M816.5 576v1M640.5 582v1M168.5 559v1M16.5 554v1M534.5 561v1M636.5 581v1M408.5 571v1M804.5 580v1M942.5 566v1M660.5 588v1M774.5 588v1M1044.5 574v1M420.5 569v1M54.5 546v1M558.5 564v1M1068.5 580v1M1302.5 573v1M126.5 549v1M1158.5 589v1M132.5 550v1M180.5 563v1M384.5 576v1M918.5 568v1M10.5 557v1M648.5 585v1M678.5 592v1M204.5 568v1M486.5 559v1M1212.5 580v1M120.5 548v1M396.5 574v1M222.5 571v1M894.5 570v1M616.5 574v1M702.5 595v1M768.5 589v1M672.5 591v1M174.5 561v1M612.5 573v1M808.5 579v1M160.5 556v1M1032.5 571v1M1014.5 568v1M1056.5 577v1M246.5 574v1M414.5 570v1M156.5 555v1M1080.5 583v1M780.5 587v1M198.5 567v1M966.5 564v1" fill="none" stroke="#FF0000" stroke-width="1"/><path d="M11 641.5h3M17 641.5h3M23 641.5h3M29 641.5h3M35 641.5h3M41 641.5h3M47 641.5h3M53 641.5h3M59 641.5h3M65 641.5h3M71 641.5h3M77 641.5h3M83 641.5h3M89 641.5h3M95 641.5h3M101 641.5h3M107 641.5h3M113 641.5h3M119 641.5h3M125 641.5h3M131 641.5h3M137 641.5h3M143 641.5h3M149 641.5h3M155 641.5h3M161 641.5h3M167 641.5h3M173 641.5h3M179 641.5h3M185 641.5h3M191 641.5h3M197 641.5h3M203 641.5h3M209 641.5h3M215 641.5h3M221 641.5h3M227 641.5h3M233 641.5h3M239 641.5h3M245 641.5h3M251 641.5h3M257 641.5h3M263 641.5h3M269 641.5h3M275 641.5h3M281 641.5h3M287 641.5h3M293 641.5h3M299 641.5h3M305 641.5h3M311 641.5h3M317 641.5h3M323 641.5h3M329 641.5h3M335 641.5h3M341 641.5h3M347 641.5h3M353 641.5h3M359 641.5h3M365 641.5h3M371 641.5h3M377 641.5h3M383 641.5h3M389 641.5h3M395 641.5h3M401 641.5h3M407 641.5h3M413 641.5h3M419 641.5h3M425 641.5h3M431 641.5h3M437 641.5h3M443 641.5h3M449 641.5h3M455 641.5h3M461 641.5h3M467 641.5h3M473 641.5h3M479 641.5h3M485 641.5h3M491 641.5h3M497 641.5h3M503 641.5h3M509 641.5h3M515 641.5h3M521 641.5h3M527 641.5h3M533 641.5h3M539 641.5h3M545 641.5h3M551 641.5h3M557 641.5h3M563 641.5h3M569 641.5h3M575 641.5h3M581 641.5h3M587 641.5h3M593 641.5h3M599 641.5h3M605 641.5h3M611 641.5h3M617 641.5h3M623 641.5h3M629 641.5h3M635 641.5h3M641 641.5h3M647 641.5h3M653 641.5h3M659 641.5h3M665 641.5h3M671 641.5h3M677 641.5h3M683 641.5h3M689 641.5h3M695 641.5h3M701 641.5h3M707 641.5h3M713 641.5h3M719 641.5h3M725 641.5h3M731 641.5h3M737 641.5h3M743 641.5h3M749 641.5h3M755 641.5h3M761 641.5h3M767 641.5h3M773 641.5h3M779 641.5h3M785 641.5h3M791 641.5h3M797 641.5h3M803 641.5h3M809 641.5h3M815 641.5h3M821 641.5h3M827 641.5h3M833 641.5h3M839 641.5h3M845 641.5h3M851 641.5h3M857 641.5h3M863 641.5h3M869 641.5h3M875 641.5h3M881 641.5h3M887 641.5h3M893 641.5h3M899 641.5h3M905 641.5h3M911 641.5h3M917 641.5h3M923 641.5h3M929 641.5h3M935 641.5h3M941 641.5h3M947 641.5h3M953 641.5h3M959 641.5h3M965 641.5h3M971 641.5h3M977 641.5h3M983 641.5h3M989 641.5h3M995 641.5h3M1001 641.5h3M1007 641.5h3M1013 641.5h3M1019 641.5h3M1025 641.5h3M1031 641.5h3M1037 641.5h3M1043 641.5h3M1049 641.5h3M1055 641.5h3M1061 641.5h3M1067 641.5h3M1073 641.5h3M1079 641.5h3M1085 641.5h3M1091 641.5h3M1097 641.5h3M1103 641.5h3M1109 641.5h3M1115 641.5h3M1121 641.5h3M1127 641.5h3M1133 641.5h3M1139 641.5h3M1145 641.5h3M1151 641.5h3M1157 641.5h3M1163 641.5h3M1169 641.5h3M1175 641.5h3M1181 641.5h3M1187 641.5h3M1193 641.5h3M1199 641.5h3M1205 641.5h3M1211 641.5h3M1217 641.5h3M1223 641.5h3M1229 641.5h3M1235 641.5h3M1241 641.5h3M1247 641.5h3M1253 641.5h3M1259 641.5h3M1265 641.5h3M1271 641.5h3M1277 641.5h3M1283 641.5h3M1289 641.5h3M1295 641.5h3M1301 641.5h3M1307 641.5h3M1313 641.5h3M1319 641.5h3M1325 641.5h3M1331 641.5h3M1337 641.5h3M1343 641.5h3M1349 641.5h3M1355 641.5h3M1361 641.5h3M1367 641.5h3M1373 641.5h3M1379 641.5h3M1385 641.5h3M1391 641.5h3M1397 641.5h3M1403 641.5h3M1409 641.5h3M1415 641.5h3M1421 641.5h3M1427 641.5h3M1433 641.5h3M1439 641.5h3M1445 641.5h3M1451 641.5h3M1457 641.5h3M1463 641.5h3M1469 641.5h3M1475 641.5h3M1481 641.5h3M1487 641.5h3M1493 641.5h3M1499 641.5h3M1505 641.5h3M1511 641.5h3M1517 641.5h3M1523 641.5h3M1529 641.5h3M1535 641.5h3M1541 641.5h3M1547 641.5h3M1553 641.5h3M1559 641.5h3M1565 641.5h3M1571 641.5h3M1577 641.5h3M1583 641.5h3M1589 641.5h3M1595 641.5h3M1601 641.5h3M1607 641.5h3M1613 641.5h3M1619 641.5h3M1625 641.5h3M1631 641.5h3M1637 641.5h3M1643 641.5h3M1649 641.5h3M1655 641.5h3" fill="none" stroke="#C0C0C0" stroke-width="1"/><path d="M11 691.5h3M17 691.5h3M23 691.5h3M29 691.5h3M35 691.5h3M41 691.5h3M47 691.5h3M53 691.5h3M59 691.5h3M65 691.5h3M71 691.5h3M77 691.5h3M83 691.5h3M89 691.5h3M95 691.5h3M101 691.5h3M107 691.5h3M113 691.5h3M119 691.5h3M125 691.5h3M131 691.5h3M137 691.5h3M143 691.5h3M149 691.5h3M155 691.5h3M161 691.5h3M167 691.5h3M173 691.5h3M179 691.5h3M185 691.5h3M191 691.5h3M197 691.5h3M203 691.5h3M209 691.5h3M215 691.5h3M221 691.5h3M227 691.5h3M233 691.5h3M239 691.5h3M245 691.5h3M251 691.5h3M257 691.5h3M263 691.5h3M269 691.5h3M275 691.5h3M281 691.5h3M287 691.5h3M293 691.5h3M299 691.5h3M305 691.5h3M311 691.5h3M317 691.5h3M323 691.5h3M329 691.5h3M335 691.5h3M341 691.5h3M347 691.5h3M353 691.5h3M359 691.5h3M365 691.5h3M371 691.5h3M377 691.5h3M383 691.5h3M389 691.5h3M395 691.5h3M401 691.5h3M407 691.5h3M413 691.5h3M419 691.5h3M425 691.5h3M431 691.5h3M437 691.5h3M443 691.5h3M449 691.5h3M455 691.5h3M461 691.5h3M467 691.5h3M473 691.5h3M479 691.5h3M485 691.5h3M491 691.5h3M497 691.5h3M503 691.5h3M509 691.5h3M515 691.5h3M521 691.5h3M527 691.5h3M533 691.5h3M539 691.5h3M545 691.5h3M551 691.5h3M557 691.5h3M563 691.5h3M569 691.5h3M575 691.5h3M581 691.5h3M587 691.5h3M593 691.5h3M599 691.5h3M605 691.5h3M611 691.5h3M617 691.5h3M623 691.5h3M629 691.5h3M635 691.5h3M641 691.5h3M647 691.5h3M653 691.5h3M659 691.5h3M665 691.5h3M671 691.5h3M677 691.5h3M683 691.5h3M689 691.5h3M695 691.5h3M701 691.5h3M707 691.5h3M713 691.5h3M719 691.5h3M725 691.5h3M731 691.5h3M737 691.5h3M743 691.5h3M749 691.5h3M755 691.5h3M761 691.5h3M767 691.5h3M773 691.5h3M779 691.5h3M785 691.5h3M791 691.5h3M797 691.5h3M803 691.5h3M809 691.5h3M815 691.5h3M821 691.5h3M827 691.5h3M833 691.5h3M839 691.5h3M845 691.5h3M851 691.5h3M857 691.5h3M863 691.5h3M869 691.5h3M875 691.5h3M881 691.5h3M887 691.5h3M893 691.5h3M899 691.5h3M905 691.5h3M911 691.5h3M917 691.5h3M923 691.5h3M929 691.5h3M935 691.5h3M941 691.5h3M947 691.5h3M953 691.5h3M959 691.5h3M965 691.5h3M971 691.5h3M977 691.5h3M983 691.5h3M989 691.5h3M995 691.5h3M1001 691.5h3M1007 691.5h3M1013 691.5h3M1019 691.5h3M1025 691.5h3M1031 691.5h3M1037 691.5h3M1043 691.5h3M1049 691.5h3M1055 691.5h3M1061 691.5h3M1067 691.5h3M1073 691.5h3M1079 691.5h3M1085 691.5h3M1091 691.5h3M1097 691.5h3M1103 691.5h3M1109 691.5h3M1115 691.5h3M1121 691.5h3M1127 691.5h3M1133 691.5h3M1139 691.5h3M1145 691.5h3M1151 691.5h3M1157 691.5h3M1163 691.5h3M1169 691.5h3M1175 691.5h3M1181 691.5h3M1187 691.5h3M1193 691.5h3M1199 691.5h3M1205 691.5h3M1211 691.5h3M1217 691.5h3M1223 691.5h3M1229 691.5h3M1235 691.5h3M1241 691.5h3M1247 691.5h3M1253 691.5h3M1259 691.5h3M1265 691.5h3M1271 691.5h3M1277 691.5h3M1283 691.5h3M1289 691.5h3M1295 691.5h3M1301 691.5h3M1307 691.5h3M1313 691.5h3M1319 691.5h3M1325 691.5h3M1331 691.5h3M1337 691.5h3M1343 691.5h3M1349 691.5h3M1355 691.5h3M1361 691.5h3M1367 691.5h3M1373 691.5h3M1379 691.5h3M1385 691.5h3M1391 691.5h3M1397 691.5h3M1403 691.5h3M1409 691.5h3M1415 691.5h3M1421 691.5h3M1427 691.5h3M1433 691.5h3M1439 691.5h3M1445 691.5h3M1451 691.5h3M1457 691.5h3M1463 691.5h3M1469 691.5h3M1475 691.5h3M1481 691.5h3M1487 691.5h3M1493 691.5h3M1499 691.5h3M1505 691.5h3M1511 691.5h3M1517 691.5h3M1523 691.5h3M1529 691.5h3M1535 691.5h3M1541 691.5h3M1547 691.5h3M1553 691.5h3M1559 691.5h3M1565 691.5h3M1571 691.5h3M1577 691.5h3M1583 691.5h3M1589 691.5h3M1595 691.5h3M1601 691.5h3M1607 691.5h3M1613 691.5h3M1619 691.5h3M1625 691.5h3M1631 691.5h3M1637 691.5h3M1643 691.5h3M1649 691.5h3M1655 691.5h3" fill="none" stroke="#C0C0C0" stroke-width="1"/><path d="M108 649.5h2M225 649.5h2M521 649.5h3M535 649.5h2M802 649.5h9M825 649.5h2M873 649.5h2M1177 649.5h11M1200 649.5h4M347 646.5h2M490 646.5h2M503 646.5h2M529 646.5h2M858 646.5h4M867 646.5h2M878 646.5h2M1170 646.5h2M1211 646.5h2M1225 646.5h5M1236 646.5h4M1262 646.5h3M1267 646.5h2M19 630.5h2M31 630.5h2M44 630.5h4M435 630.5h2M334 664.5h2M578 664.5h9M715 664.5h2M729 664.5h5M1019 664.5h2M1104 664.5h2M1108 664.5h2M1120 664.5h3M416 635.5h2M900 635.5h4M918 635.5h8M934 635.5h6M106 648.5h2M507 648.5h2M524 648.5h2M533 648.5h2M871 648.5h2M875 648.5h2M1166 648.5h2M1174 648.5h3M1188 648.5h4M1196 648.5h4M1204 648.5h4M166 656.5h3M267 656.5h2M296 656.5h4M568 656.5h3M505 647.5h2M526 647.5h3M531 647.5h2M869 647.5h2M1168 647.5h2M1172 647.5h2M1192 647.5h4M1208 647.5h3M1240 647.5h3M1265 647.5h2M138 658.5h4M161 658.5h3M234 658.5h10M260 658.5h4M290 658.5h2M304 658.5h3M562 658.5h2M750 658.5h2M1005 658.5h2M95 637.5h2M456 637.5h2M462 637.5h5M785 637.5h10M896 637.5h2M110 650.5h3M223 650.5h2M510 650.5h2M518 650.5h3M537 650.5h5M811 650.5h2M823 650.5h2M1163 650.5h2M190 653.5h3M196 653.5h4M204 653.5h2M216 653.5h3M273 653.5h3M817 653.5h2M1298 653.5h2M164 657.5h2M264 657.5h3M292 657.5h4M300 657.5h4M564 657.5h4M752 657.5h2M1003 657.5h2M152 661.5h4M249 661.5h3M310 661.5h2M318 661.5h3M326 661.5h5M591 661.5h2M744 661.5h3M1012 661.5h2M25 627.5h2M54 627.5h3M440 627.5h2M91 639.5h2M368 639.5h2M380 639.5h4M409 639.5h2M770 639.5h2M781 639.5h2M1281 639.5h3M78 641.5h3M396 641.5h2M405 641.5h2M470 641.5h2M481 641.5h2M776 641.5h3M1251 641.5h2M1277 641.5h2M1288 641.5h3M113 651.5h5M126 651.5h5M209 651.5h3M221 651.5h2M280 651.5h3M512 651.5h2M516 651.5h2M542 651.5h13M813 651.5h2M821 651.5h2M828 651.5h2M1146 651.5h4M1158 651.5h5M1304 651.5h11M721 667.5h3M994 667.5h2M1025 667.5h3M1037 667.5h2M1100 667.5h2M1126 667.5h2M648 673.5h2M695 673.5h2M1048 673.5h2M1052 673.5h4M1059 673.5h2M1137 673.5h2M681 668.5h2M1039 668.5h2M1128 668.5h2M312 662.5h2M316 662.5h2M331 662.5h2M589 662.5h2M740 662.5h4M1014 662.5h3M76 642.5h2M354 642.5h4M363 642.5h2M398 642.5h3M403 642.5h2M478 642.5h3M483 642.5h2M888 642.5h3M1253 642.5h2M1275 642.5h2M418 634.5h4M904 634.5h14M940 634.5h4M950 634.5h21M10 631.5h9M33 631.5h11M432 631.5h3M422 633.5h6M944 633.5h6M646 672.5h2M697 672.5h3M1046 672.5h2M1056 672.5h3M1135 672.5h2M81 640.5h10M366 640.5h2M384 640.5h12M407 640.5h2M451 640.5h2M772 640.5h4M779 640.5h2M892 640.5h2M1279 640.5h2M1284 640.5h4M710 666.5h2M719 666.5h2M724 666.5h2M1023 666.5h2M1028 666.5h4M1035 666.5h2M1113 666.5h3M679 669.5h2M1041 669.5h2M93 638.5h2M370 638.5h10M411 638.5h2M454 638.5h2M783 638.5h2M97 636.5h2M414 636.5h2M458 636.5h4M898 636.5h2M926 636.5h8M118 652.5h8M193 652.5h3M206 652.5h3M212 652.5h4M219 652.5h2M276 652.5h4M514 652.5h2M758 652.5h2M815 652.5h2M819 652.5h2M1150 652.5h8M1300 652.5h4M142 659.5h6M158 659.5h3M244 659.5h2M256 659.5h4M307 659.5h2M1007 659.5h2M488 645.5h2M492 645.5h2M501 645.5h2M862 645.5h5M880 645.5h2M1213 645.5h2M1222 645.5h3M1230 645.5h6M1260 645.5h2M1269 645.5h2M643 670.5h2M677 670.5h2M704 670.5h3M1043 670.5h2M1131 670.5h2M675 671.5h2M700 671.5h4M1133 671.5h2M134 655.5h2M169 655.5h2M186 655.5h2M269 655.5h2M286 655.5h2M558 655.5h2M834 655.5h17M428 632.5h4M614 685.5h6M1076 685.5h4M1083 685.5h2M314 663.5h2M587 663.5h2M734 663.5h6M1017 663.5h2M1106 663.5h2M632 681.5h3M658 681.5h9M336 665.5h3M717 665.5h2M726 665.5h3M1021 665.5h2M1032 665.5h3M1110 665.5h3M1116 665.5h4M1123 665.5h2M610 684.5h4M620 684.5h4M1074 684.5h2M188 654.5h2M200 654.5h4M271 654.5h2M832 654.5h2M66 643.5h10M352 643.5h2M358 643.5h5M401 643.5h2M476 643.5h2M497 643.5h2M884 643.5h4M1217 643.5h3M1246 643.5h2M1255 643.5h2M1273 643.5h2M350 644.5h2M474 644.5h2M486 644.5h2M494 644.5h3M499 644.5h2M882 644.5h2M1215 644.5h2M1220 644.5h2M1257 644.5h3M1271 644.5h2M148 660.5h4M156 660.5h2M246 660.5h3M252 660.5h4M321 660.5h5M593 660.5h2M747 660.5h2M1009 660.5h3M691 675.5h2M1063 675.5h2M693 674.5h2M1050 674.5h2M1061 674.5h2M624 683.5h4M1086 683.5h2M23 628.5h2M27 628.5h2M52 628.5h2M438 628.5h2M57 626.5h2M1065 676.5h2M21 629.5h2M29 629.5h2M48 629.5h4M654 678.5h2M628 682.5h4M1088 682.5h2M1080 686.5h3M449.5 639v2M1139.5 669v3M345.5 649v2M137.5 657v1M577.5 663v1M232.5 656v1M980.5 644v1M1094.5 675v1M855.5 649v1M981.5 645v1M1085.5 684v1M764.5 646v2M596.5 663v1M668.5 679v1M365.5 641v1M284.5 653v1M472.5 642v1M136.5 656v1M641.5 670v2M231.5 655v1M65.5 640v2M182.5 659v1M999.5 660v2M994.5 668v1M1097.5 670v2M991.5 661v2M637.5 676v2M767.5 643v1M671.5 675v1M99.5 637v2M1070.5 680v1M132.5 653v1M509.5 649v1M686.5 672v1M437.5 629v1M342.5 656v2M448.5 637v2M755.5 655v1M576.5 662v1M64.5 638v2M1146.5 652v1M854.5 650v2M467.5 638v1M173.5 658v1M341.5 658v3M174.5 659v1M645.5 671v1M983.5 648v1M344.5 651v2M595.5 661v2M599.5 667v1M895.5 638v1M1245.5 644v1M708.5 668v1M1093.5 676v2M857.5 647v1M230.5 653v2M712.5 665v1M975.5 639v1M180.5 661v1M670.5 676v2M997.5 663v2M1291.5 642v2M976.5 640v1M1091.5 679v2M1069.5 679v1M1142.5 661v3M640.5 672v1M598.5 665v2M982.5 646v2M990.5 659v2M349.5 645v1M101.5 640v2M1141.5 664v3M473.5 643v1M797.5 641v2M1249.5 641v1M447.5 635v2M340.5 661v2M343.5 653v3M444.5 629v2M63.5 636v2M60.5 630v2M993.5 665v2M852.5 653v1M757.5 653v1M989.5 657v2M830.5 652v1M184.5 657v1M571.5 657v1M1145.5 653v3M795.5 638v2M572.5 658v1M450.5 641v1M796.5 640v1M66.5 642v1M1099.5 668v1M636.5 678v1M233.5 657v1M766.5 644v1M1293.5 645v2M1294.5 647v1M992.5 663v2M1297.5 651v2M469.5 640v1M761.5 650v1M597.5 664v1M986.5 651v2M754.5 656v1M601.5 669v2M996.5 665v1M799.5 644v2M1125.5 666v1M446.5 633v2M560.5 656v1M62.5 634v2M179.5 662v1M639.5 673v2M769.5 640v1M1144.5 656v2M468.5 639v1M988.5 655v2M59.5 628v2M100.5 639v1M1071.5 681v1M339.5 663v2M175.5 660v1M133.5 654v1M309.5 660v1M687.5 673v1M604.5 674v2M1244.5 645v1M707.5 669v1M176.5 661v1M688.5 674v1M1143.5 658v3M985.5 650v1M1090.5 681v1M669.5 678v1M445.5 631v2M650.5 674v1M1292.5 644v1M61.5 632v2M1296.5 650v1M442.5 626v1M103.5 643v2M1140.5 667v2M555.5 652v1M984.5 649v1M987.5 653v2M714.5 663v1M894.5 639v1M600.5 668v1M603.5 672v2M573.5 659v1M798.5 643v1M574.5 660v1M672.5 674v1M851.5 654v1M977.5 641v1M1295.5 648v2M642.5 669v1M58.5 627v1M667.5 680v1M102.5 642v1M346.5 647v2M831.5 653v1M995.5 666v1M607.5 679v1M768.5 641v2M801.5 647v2M561.5 657v1M1002.5 656v1M1096.5 672v1M227.5 650v1M763.5 648v1M228.5 651v1M756.5 654v1M1067.5 677v1M288.5 656v1M1250.5 640v1M683.5 669v1M181.5 660v1M656.5 679v1M333.5 663v1M877.5 647v1M606.5 677v2M177.5 662v1M690.5 676v1M800.5 646v1M709.5 667v1M827.5 650v1M105.5 646v2M1130.5 669v1M713.5 664v1M609.5 682v2M1072.5 682v1M557.5 654v1M674.5 672v1M998.5 662v1M413.5 637v1M1092.5 678v1M1001.5 657v2M602.5 671v1M1073.5 683v1M853.5 652v1M971.5 635v1M689.5 675v1M185.5 656v1M972.5 636v1M443.5 627v2M485.5 643v1M1103.5 665v1M1165.5 649v1M651.5 675v1M978.5 642v1M652.5 676v1M979.5 643v1M104.5 645v1M556.5 653v1M1095.5 673v2M605.5 676v1M1138.5 672v1M1248.5 642v1M608.5 680v2M283.5 652v1M762.5 649v1M575.5 661v1M172.5 657v1M635.5 679v2M131.5 652v1M856.5 648v1M765.5 645v1M891.5 641v1M183.5 658v1M289.5 657v1M229.5 652v1M657.5 680v1M1068.5 678v1M684.5 670v1M453.5 639v1M685.5 671v1M1098.5 669v1M1045.5 671v1M338.5 666v1M974.5 638v1M171.5 656v1M760.5 651v1M653.5 677v1M673.5 673v1M1243.5 646v1M1000.5 659v1M749.5 659v1M178.5 663v1M638.5 675v1M1102.5 666v1M285.5 654v1M973.5 637v1" fill="none" stroke="#1E90FF" stroke-width="1"/><path d="M10.5 731v3M106.5 731v3M202.5 731v3M298.5 731v3M394.5 731v3M490.5 731v3M586.5 731v3M682.5 731v3M778.5 731v3M874.5 731v3M970.5 731v3M1066.5 731v3M1162.5 731v3M1258.5 731v3M1660 76.5h2M1660 125.5h2M1660 174.5h2M1660 223.5h2M1660 272.5h2M1660 322.5h2M1660 371.5h2M1660 420.5h2M1660 469.5h2M1660 518.5h2M1660 588.5h2M1660 641.5h2M1660 691.5h2" fill="none" stroke="#000" stroke-width="1"/></svg>
<svg class="abs" style="left:13px;top:48px" width="10" height="6"><polygon points="0,5 4.5,0 9,5" fill="#000"/></svg>
<div class="abs" id="title" style="left:28px;top:44px;font-size:12.5px;line-height:14px;letter-spacing:-0.5px">SP500-,H4</div>
<div class="abs" id="title2" style="left:94px;top:44px;font-size:12.5px;line-height:14px;letter-spacing:0.130px">3018.250 3018.250 3015.750 3017.000</div>
<div class="abs" id="macdt" style="left:14px;top:542.5px;font-size:12.5px;line-height:14px;">MACD(12,26,9) 7.6541-8.0739</div>
<div class="abs" id="rsit" style="left:14px;top:605.5px;font-size:12.5px;line-height:14px;">RSI(14) 62.2905</div>
<div class="dt" style="left:9px">7 Jun 2019</div>
<div class="dt" style="left:105px">11 Jun 12:00</div>
<div class="dt" style="left:201px">13 Jun 12:00</div>
<div class="dt" style="left:297px">17 Jun 08:00</div>
<div class="dt" style="left:393px">19 Jun 08:00</div>
<div class="dt" style="left:489px">21 Jun 08:00</div>
<div class="dt" style="left:585px">25 Jun 04:00</div>
<div class="dt" style="left:681px">27 Jun 04:00</div>
<div class="dt" style="left:777px">1 Jul 00:00</div>
<div class="dt" style="left:873px">3 Jul 00:00</div>
<div class="dt" style="left:969px">5 Jul 00:00</div>
<div class="dt" style="left:1065px">8 Jul 20:00</div>
<div class="dt" style="left:1161px">10 Jul 20:00</div>
<div class="dt" style="left:1257px">12 Jul 20:00</div>
<div class="ax" style="top:69.6px">3019.275</div>
<div class="ax" style="top:118.6px">3002.625</div>
<div class="ax" style="top:167.6px">2986.210</div>
<div class="ax" style="top:216.8px">2969.460</div>
<div class="ax" style="top:265.8px">2953.045</div>
<div class="ax" style="top:315.0px">2936.295</div>
<div class="ax" style="top:413.1px">2903.130</div>
<div class="ax" style="top:462.0px">2886.380</div>
<div class="ax" style="top:510.9px">2869.965</div>
<div class="ax" style="left:1663px;top:540.5px">26.703</div>
<div class="ax" style="left:1663px;top:582px">0.00</div>
<div class="ax" style="left:1664px;top:585px">-6.0873</div>
<div class="ax" style="left:1663px;top:603.5px">100</div>
<div class="ax" style="left:1663px;top:634.5px">70</div>
<div class="ax" style="left:1663px;top:684.5px">30</div>
<div class="ax" style="left:1663px;top:715.5px">0</div>
<div class="lbl" style="top:76px;background:#000">3017.000</div>
<div class="lbl" style="top:127px;background:#00FF7F">3000.000</div>
<div class="lbl" style="top:275px;background:#0000FF">2950.000</div>
<div class="lbl" style="top:363px;background:#0000FF">2920.000</div>
<!-- trade panel -->
<div class="abs" style="left:13px;top:63px;width:68px;height:28px;box-sizing:border-box;border:1px solid #C00000;border-bottom:none;background:linear-gradient(#FF5858,#E83838)"></div>
<div class="abs" style="left:17px;top:90px;width:60px;height:1px;background:#F08080"></div>
<div class="abs" style="left:228px;top:63px;width:68px;height:28px;box-sizing:border-box;border:1px solid #C00000;border-bottom:none;background:linear-gradient(#FF5858,#E83838)"></div>
<div class="abs" style="left:13px;top:91px;width:141px;height:48px;box-sizing:border-box;border:1px solid #B00000;border-top:none;background:linear-gradient(#E03434,#B00000)"></div>
<div class="abs" style="left:156px;top:91px;width:140px;height:48px;box-sizing:border-box;border:1px solid #B00000;border-top:none;background:linear-gradient(#E03434,#B00000)"></div>
<div class="abs" style="left:232px;top:90px;width:60px;height:1px;background:#F08080"></div>
<div class="abs" style="left:83px;top:63px;width:144px;height:25px;box-sizing:border-box;border:1px solid #A8B0C0;background:#fff"></div>
<div class="abs" style="left:85px;top:65px;width:22px;height:21px;box-sizing:border-box;border:1px solid #C8C8C8;background:linear-gradient(#F4F4F4 0%,#E8E8E8 45%,#D4D4D4 50%,#D0D0D0 100%)"></div>
<div class="abs" style="left:202px;top:65px;width:23px;height:21px;box-sizing:border-box;border:1px solid #C8C8C8;background:linear-gradient(#F4F4F4 0%,#E8E8E8 45%,#D4D4D4 50%,#D0D0D0 100%)"></div>
<div class="abs" style="left:107px;top:64px;width:1px;height:23px;background:#B0B8C8"></div>
<div class="abs" style="left:201px;top:64px;width:1px;height:23px;background:#B0B8C8"></div>
<svg class="abs" style="left:92px;top:74px" width="8" height="5"><polygon points="0,0 8,0 4,4.5" fill="#4864C8"/></svg>
<svg class="abs" style="left:209px;top:73px" width="8" height="5"><polygon points="0,4.5 8,4.5 4,0" fill="#4864C8"/></svg>
<div class="abs" id="sell" style="left:30px;top:68px;font-size:15px;line-height:17px;color:#FFF0E8;transform-origin:0 0;transform:scaleX(0.9)">SELL</div>
<div class="abs" id="buy" style="left:247.5px;top:68px;font-size:15px;line-height:17px;color:#FFF0E8;transform-origin:0 0;transform:scaleX(0.91)">BUY</div>
<div class="abs" id="vol" style="left:167.5px;top:67px;font-size:15.5px;line-height:17px;color:#000">1.00</div>
<div class="sm" id="s1" style="left:34.5px;top:114px;">3016</div>
<div class="big" id="s2" style="left:74px;top:91px;">98</div>
<div class="sup" id="s3" style="left:123px;top:95.300px;">5</div>
<div class="sm" id="b1" style="left:176.5px;top:114px;">3018</div>
<div class="big" id="b2" style="left:217px;top:91px;">01</div>
<div class="sup" id="b3" style="left:266px;top:95.300px;">5</div>
</body></html>
